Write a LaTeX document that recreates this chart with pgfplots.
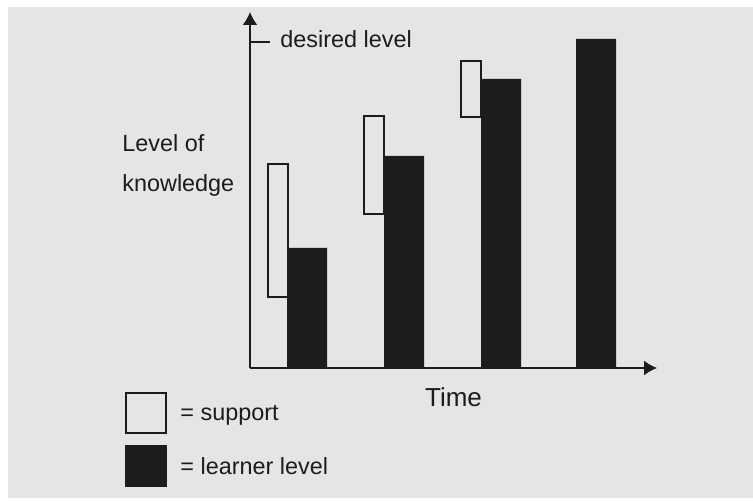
\documentclass[border=0pt]{standalone}
\usepackage{fontspec}
\setmainfont{Liberation Sans}
\usepackage{pgfplots}
\pgfplotsset{compat=1.18}
\usetikzlibrary{arrows.meta}
\definecolor{bg}{RGB}{229,229,229}
\definecolor{ink}{RGB}{28,28,28}
\newcommand\lab{\fontsize{11.7pt}{14pt}\selectfont}

\begin{document}
\begin{tikzpicture}
\fill[white] (-125pt,-66.5pt) rectangle (251.5pt,184pt);
\fill[bg] (-121pt,-65pt) rectangle (251.5pt,180.5pt);
\pgfplotsset{base/.style={scale only axis, width=203.5pt, height=178pt,
  xmin=0, xmax=407, ymin=0, ymax=356, enlargelimits=false,
  at={(0pt,0pt)}, anchor=south west, clip=false}}
% support (floating bars: invisible base + visible segment)
\begin{axis}[base, hide axis, ybar stacked, bar width=20]
\addplot[draw=none, fill=none] coordinates {(28,71) (124,154) (221,251)};
\addplot[draw=ink, line width=1pt, fill=bg] coordinates {(28,133) (124,98) (221,56)};
\end{axis}
% learner level
\begin{axis}[base, axis lines=left,
  axis line style={draw=ink, line width=0.9pt, -{Latex[length=6.5pt,width=7.5pt]}},
  xtick=\empty, ytick={326}, yticklabels={}, major tick length=10pt,
  tick align=inside, every tick/.style={draw=ink, line width=1pt},
  xlabel={Time},
  xlabel style={at={(axis description cs:0.5,0)}, anchor=base, yshift=-19.5pt,
    inner sep=0pt, font=\fontsize{13pt}{15pt}\selectfont, text=ink},
  legend cell align=left,
  legend style={at={(axis description cs:-0.3071,-0.0674)}, anchor=north west,
    draw=none, fill=none, inner sep=0pt, row sep=5.5pt,
    nodes={inner sep=0pt, text=ink}, font=\lab,
    /tikz/every odd column/.append style={column sep=6.5pt}}]
\addlegendimage{legend image code/.code={\draw[draw=ink,line width=1pt,fill=bg] (0pt,-9.5pt) rectangle (20pt,10.5pt);}}
\addlegendentry{= support}
\addplot[ybar, bar width=40, bar shift=0pt, draw=none, fill=ink,
  legend image code/.code={\fill[ink] (-0.5pt,-10pt) rectangle (20.5pt,11pt);}]
  coordinates {(57,120) (154,212) (251,289) (346,329)};
\addlegendentry{= learner level}
\end{axis}
\node[anchor=base west, inner sep=0pt, text=ink, font=\lab] at (-64pt,108pt) {Level of};
\node[anchor=base west, inner sep=0pt, text=ink, font=\lab] at (-64pt,88pt) {knowledge};
\node[anchor=base west, inner sep=0pt, text=ink, font=\lab] at (15pt,160pt) {desired level};
\pgfresetboundingbox
\useasboundingbox (-125pt,-66.5pt) rectangle (251.5pt,184pt);
\end{tikzpicture}
\end{document}
